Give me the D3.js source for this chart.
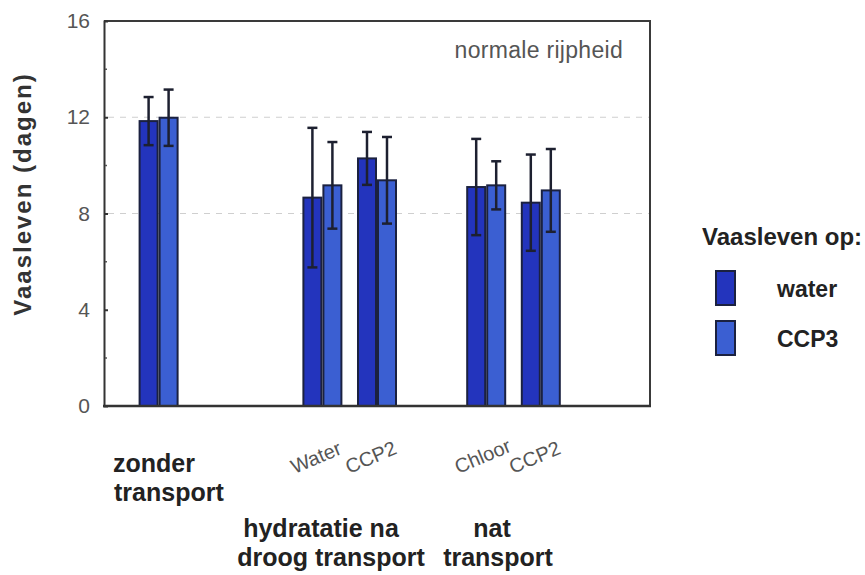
<!DOCTYPE html>
<html>
<head>
<meta charset="utf-8">
<script src="https://cdn.jsdelivr.net/npm/d3@7"></script>
<style>
  html, body { margin: 0; padding: 0; background: #fff; }
  svg { display: block; font-family: "Liberation Sans", Arial, sans-serif; }
</style>
</head>
<body>
<svg id="chart" width="865" height="575"></svg>
<script>
// Vase life (days) per treatment, mean and error half-width
const slots = ["pad0", "zonder", "pad2", "pad3", "droogWater", "droogCCP2", "pad6", "natChloor", "natCCP2", "pad9", "pad10"];
const groupKeys = ["zonder", "droogWater", "droogCCP2", "natChloor", "natCCP2"];
const subLabels = ["", "Water", "CCP2", "Chloor", "CCP2"];
const waterMean = [11.84, 8.66, 10.29, 9.10, 8.45];
const waterErr  = [1.0, 2.9, 1.1, 2.0, 2.0];
const ccp3Mean  = [11.98, 9.17, 9.38, 9.17, 8.96];
const ccp3Err   = [1.17, 1.8, 1.8, 1.0, 1.72];
const yTicks = [0, 4, 8, 12, 16];
const yMinor = [2, 6, 10, 14];
const gridValues = [8, 12];
const seriesNames = ["water", "CCP3"];

const svg = d3.select("#chart");
const pLeft = 104, pRight = 650, pTop = 21, pBottom = 406;

const x = d3.scalePoint().domain(slots).range([pLeft, pRight]);
const y = d3.scaleLinear().domain([0, 16]).range([pBottom, pTop]);
const barW = 20;
const colors = { water: "#2334bd", CCP3: "#3b5fd2" };
const outline = "#1b2140";

// dashed grid lines
svg.append("g").selectAll("line").data(gridValues).join("line")
  .attr("x1", pLeft + 4).attr("x2", pRight)
  .attr("y1", d => y(d)).attr("y2", d => y(d))
  .attr("stroke", "#cfcfcf").attr("stroke-width", 1)
  .attr("stroke-dasharray", "6,6");

// frame: top and right edges
svg.append("path")
  .attr("d", `M${pLeft},${pTop}H${pRight}V${pBottom}`)
  .attr("fill", "none").attr("stroke", "#3a3a3a").attr("stroke-width", 2);

// left axis
const yAxis = d3.axisLeft(y).tickValues(yTicks).tickSize(-4).tickPadding(14).tickFormat(d3.format("d"));
const gy = svg.append("g").attr("transform", `translate(${pLeft},0)`).call(yAxis);
gy.select(".domain").attr("stroke", "#333").attr("stroke-width", 2);
gy.selectAll(".tick line").attr("stroke", "#333").attr("stroke-width", 2);
gy.selectAll(".tick text").attr("fill", "#555").attr("font-size", 21);
gy.selectAll(".tick").filter(d => d === 0 || d === 16).select("line").remove();

// minor ticks
svg.append("g").selectAll("line").data(yMinor).join("line")
  .attr("x1", pLeft + 1).attr("x2", pLeft + 3)
  .attr("y1", d => y(d)).attr("y2", d => y(d))
  .attr("stroke", "#555").attr("stroke-width", 1.5);

// bars
const rows = groupKeys.map((k, i) => ([
  { key: k, s: "water", v: waterMean[i], e: waterErr[i], off: -barW },
  { key: k, s: "CCP3", v: ccp3Mean[i], e: ccp3Err[i], off: 0 }
])).flat();

svg.append("g").selectAll("rect").data(rows).join("rect")
  .attr("x", d => x(d.key) + d.off + 1)
  .attr("y", d => y(d.v))
  .attr("width", barW - 2)
  .attr("height", d => y(0) - y(d.v))
  .attr("fill", d => colors[d.s])
  .attr("stroke", outline).attr("stroke-width", 2);

// bottom axis line
svg.append("line").attr("x1", pLeft - 1).attr("x2", pRight + 1)
  .attr("y1", pBottom).attr("y2", pBottom)
  .attr("stroke", "#333").attr("stroke-width", 2.5);

// error bars
const eb = svg.append("g").attr("stroke", "#1d2030").attr("stroke-width", 2.5);
rows.forEach(d => {
  const cx = x(d.key) + d.off + barW / 2;
  eb.append("line").attr("x1", cx).attr("x2", cx).attr("y1", y(d.v + d.e)).attr("y2", y(d.v - d.e));
  eb.append("line").attr("x1", cx - 5).attr("x2", cx + 5).attr("y1", y(d.v + d.e)).attr("y2", y(d.v + d.e));
  eb.append("line").attr("x1", cx - 5).attr("x2", cx + 5).attr("y1", y(d.v - d.e)).attr("y2", y(d.v - d.e));
});

// panel note
svg.append("text").attr("x", 623).attr("y", 58).attr("text-anchor", "end")
  .attr("fill", "#555").attr("font-size", 23).attr("letter-spacing", 0.3).text("normale rijpheid");

// y axis title
svg.append("text").attr("transform", `translate(31,194) rotate(-90)`)
  .attr("text-anchor", "middle").attr("font-weight", "bold").attr("font-size", 24)
  .attr("letter-spacing", 2).attr("fill", "#333").text("Vaasleven (dagen)");

// slanted treatment labels
subLabels.forEach((t, i) => {
  if (!t) return;
  const cx = x(groupKeys[i]);
  svg.append("text")
    .attr("transform", `translate(${cx - 28},474) rotate(-23)`)
    .attr("fill", "#555").attr("font-size", 20).text(t);
});

// group labels
const groupLabel = (lines, yPos, anchor) => {
  const t = svg.append("text").attr("y", yPos).attr("text-anchor", anchor)
    .attr("font-weight", "bold").attr("font-size", 25).attr("fill", "#222");
  lines.forEach((l, j) => t.append("tspan").attr("x", l[1]).attr("dy", j ? 29 : 0).text(l[0]));
};
groupLabel([["zonder", 113], ["transport", 114]], 472, "start");
groupLabel([["hydratatie na", 321], ["droog transport", 331]], 537, "middle");
groupLabel([["nat", 492], ["transport", 498]], 537, "middle");

// legend
const lg = svg.append("g");
lg.append("text").attr("x", 702).attr("y", 245).attr("font-weight", "bold")
  .attr("font-size", 24).attr("fill", "#222").text("Vaasleven op:");
seriesNames.forEach((s, i) => {
  const yy = 271 + i * 50;
  lg.append("rect").attr("x", 716).attr("y", yy).attr("width", 19).attr("height", 34)
    .attr("fill", colors[s]).attr("stroke", outline).attr("stroke-width", 2);
  lg.append("text").attr("x", 777).attr("y", yy + 26).attr("font-weight", "bold")
    .attr("font-size", 23).attr("fill", "#222").text(s);
});
</script>
</body>
</html>
